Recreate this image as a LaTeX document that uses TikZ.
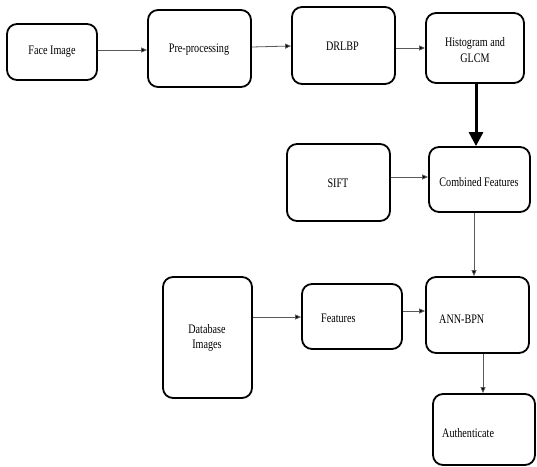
\documentclass[tikz,border=0pt]{standalone}
\usepackage{fontspec}
\setmainfont{Liberation Serif}[FakeStretch=0.78]
\usetikzlibrary{arrows.meta}
\begin{document}
\begin{tikzpicture}[x=1pt,y=-1pt,
  box/.style={draw=black,line width=1.8pt,rounded corners=10pt,inner sep=0pt},
  lbl/.style={font=\fontsize{13}{15.5}\selectfont,align=center,inner sep=0pt},
  arr/.style={draw=black!65,line width=0.8pt,-{Triangle[length=6pt,width=5pt,fill=black]}},
  bigarr/.style={draw=black,line width=3pt,-{Triangle[length=14pt,width=14pt]}}]
\useasboundingbox (0,0) rectangle (537,466);
% boxes
\node[box,minimum width=90pt,minimum height=56pt] (face) at (52,52) {};
\node[box,minimum width=103pt,minimum height=77pt] (pre) at (199.5,48.5) {};
\node[box,minimum width=103pt,minimum height=77pt] (drlbp) at (343.5,45.5) {};
\node[box,minimum width=98pt,minimum height=70pt] (hist) at (475,48) {};
\node[box,minimum width=103pt,minimum height=77pt] (sift) at (338.5,182.5) {};
\node[box,minimum width=101pt,minimum height=65pt] (comb) at (479.5,179.5) {};
\node[box,minimum width=89pt,minimum height=121pt] (db) at (207.5,337.5) {};
\node[box,minimum width=100pt,minimum height=65pt] (feat) at (352,316.5) {};
\node[box,minimum width=103pt,minimum height=76pt] (ann) at (477.5,315) {};
\node[box,minimum width=102pt,minimum height=71pt] (auth) at (484,429.5) {};
% labels
\node[lbl] (faceT) at (52,52) {Face Image};
\node[lbl] (preT) at (199,50) {Pre-processing};
\node[lbl] (drlbpT) at (342.5,46) {DRLBP};
\node[lbl] (histT) at (475,50) {Histogram and\\GLCM};
\node[lbl] (siftT) at (338,183) {SIFT};
\node[lbl] (combT) at (479,182) {Combined Features};
\node[lbl] (dbT) at (207,338) {Database\\Images};
\node[lbl,anchor=west] (featT) at (321,318) {Features};
\node[lbl,anchor=west] (annT) at (439,319) {ANN-BPN};
\node[lbl,anchor=west] (authT) at (442,433) {Authenticate};
% connectors
\draw[arr] ([yshift=2pt]face.east) -- ([yshift=-1.5pt]pre.west);
\draw[arr] ([yshift=1.5pt]pre.east) -- ([yshift=-0.5pt]drlbp.west);
\draw[arr] ([yshift=-2.5pt]drlbp.east) -- (hist.west);
\draw[bigarr] ([xshift=1pt]hist.south) -- ([xshift=-3.5pt]comb.north);
\draw[arr] ([yshift=5.5pt]sift.east) -- ([yshift=2.5pt]comb.west);
\draw[arr] ([xshift=-5.5pt]comb.south) -- ([xshift=-3.5pt]ann.north);
\draw[arr] ([yshift=20.5pt]db.east) -- ([yshift=-0.5pt]feat.west);
\draw[arr] ([yshift=5.5pt]feat.east) -- ([yshift=4pt]ann.west);
\draw[arr] ([xshift=5.5pt]ann.south) -- ([xshift=-1pt]auth.north);
\end{tikzpicture}
\end{document}
